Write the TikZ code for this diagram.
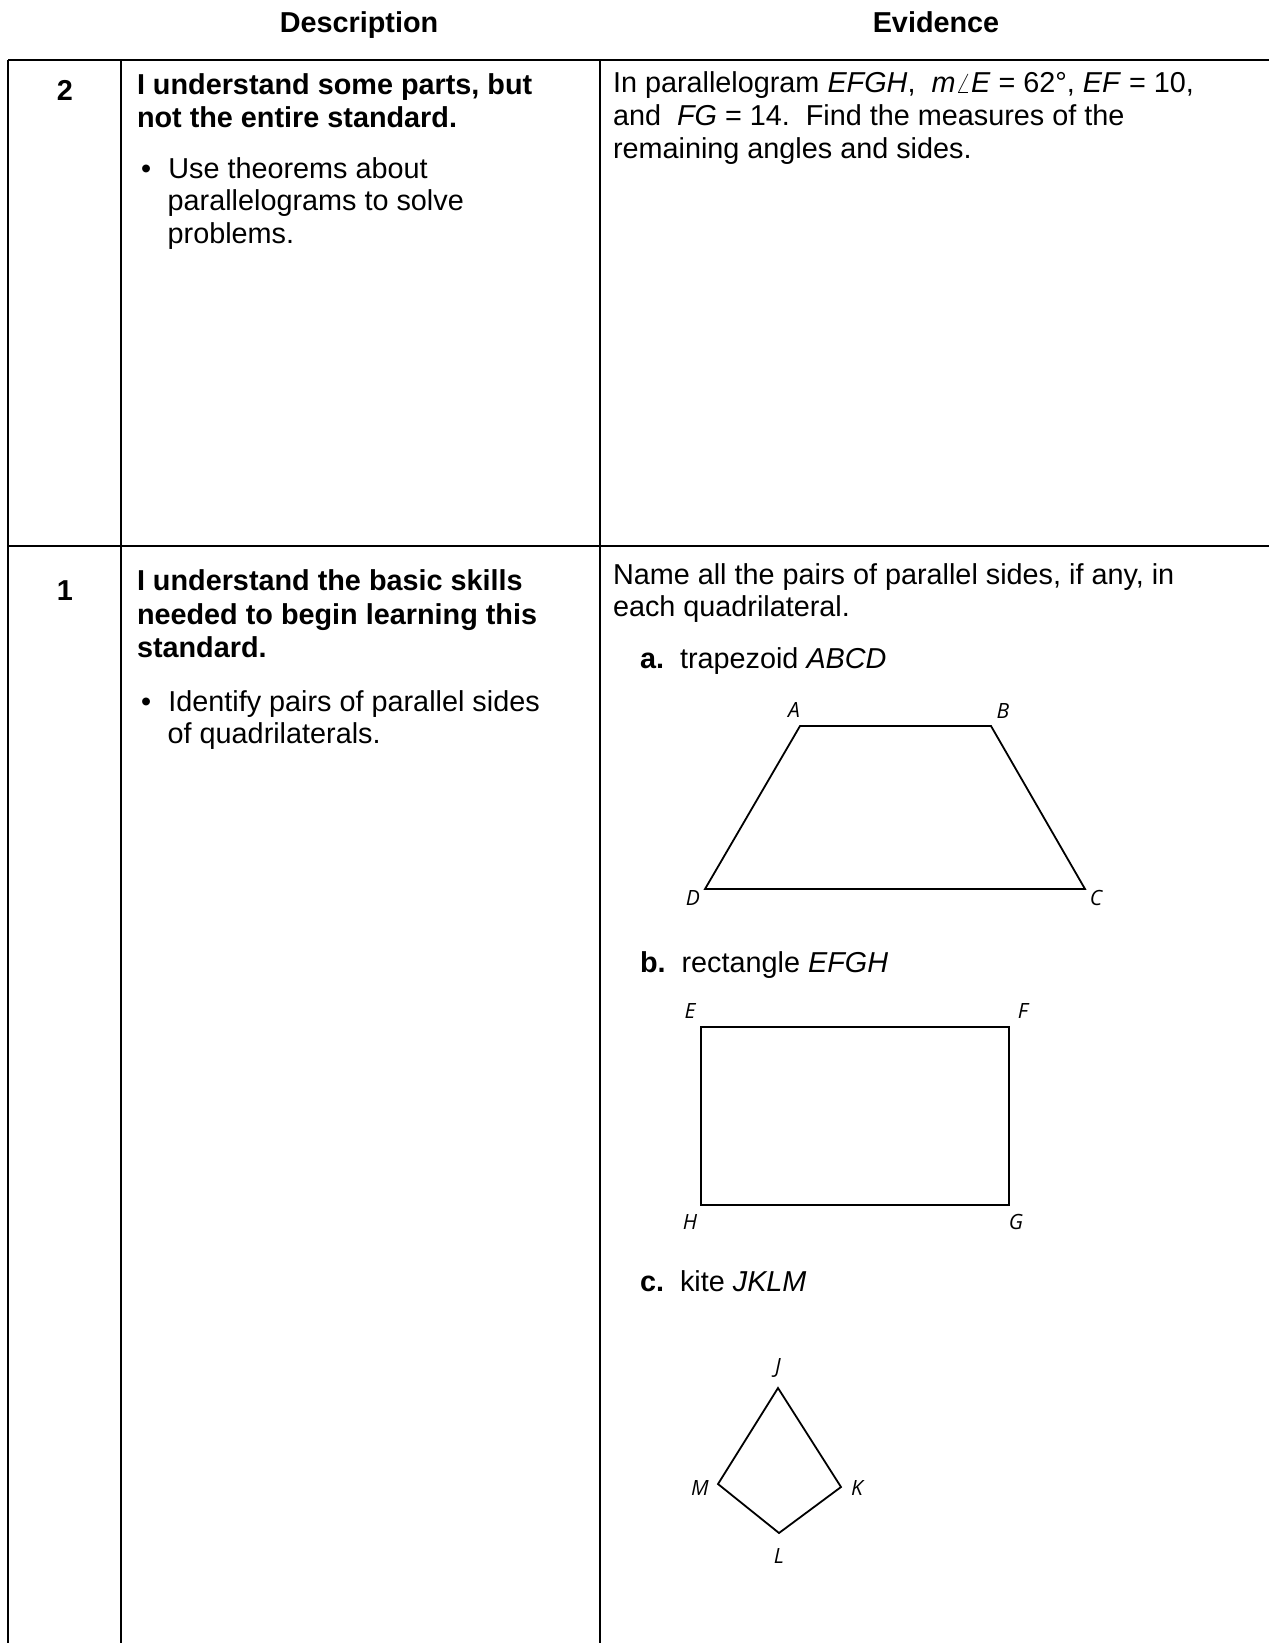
\documentclass[tikz,border=0pt]{standalone}
\usepackage{fontspec}
\setmainfont{Liberation Sans}
\newfontfamily\labfont{Open Sans}
\begin{document}
\begin{tikzpicture}[x=0.5pt,y=-0.5pt,
  every node/.style={inner sep=0pt,outer sep=0pt},
  txt/.style={anchor=base west,font=\fontsize{14.4}{17}\selectfont},
  bftxt/.style={anchor=base west,font=\fontsize{14.4}{17}\selectfont\bfseries},
  hdr/.style={anchor=base,font=\fontsize{14.4}{17}\selectfont\bfseries},
  vlab/.style={font=\fontsize{10.5}{12}\selectfont\labfont\itshape},
  rule/.style={line width=1pt},
  fig/.style={line width=0.9pt,line join=miter}]
\useasboundingbox (0,0) rectangle (1269,1643);
% table rules
\draw[rule] (8,60) -- (1269,60);
\draw[rule] (8,546) -- (1269,546);
\draw[rule] (8,60) -- (8,1643);
\draw[rule] (120.5,60) -- (120.5,1643);
\draw[rule] (600,60) -- (600,1643);
% header
\node[hdr] (hdesc) at (359,33) {Description};
\node[hdr] (hevid) at (936,33) {Evidence};
% row 2
\node[hdr] (lvl2) at (65,101) {2};
\node[bftxt] (r2a) at (137,95) {I understand some parts, but};
\node[bftxt] (r2b) at (137,127.5) {not the entire standard.};
\node[txt] (r2c) at (141,178) {\textbullet\hspace{0.6em}Use theorems about};
\node[txt] (r2d) at (167.7,210.5) {parallelograms to solve};
\node[txt] (r2e) at (167.7,243) {problems.};
\node[txt] (e2a) at (613,93) {In parallelogram \textit{EFGH},\ \ \textit{m}$\angle$\textit{E}\ =\ 62°, \textit{EF}\ =\ 10,};
\node[txt] (e2b) at (613,125.5) {and\ \ \textit{FG}\ =\ 14.\ \ Find the measures of the};
\node[txt] (e2c) at (613,158) {remaining angles and sides.};
% row 1
\node[hdr] (lvl1) at (65,600) {1};
\node[bftxt] (r1a) at (137,590) {I understand the basic skills};
\node[bftxt] (r1b) at (137,624) {needed to begin learning this};
\node[bftxt] (r1c) at (137,657.5) {standard.};
\node[txt] (r1d) at (141,711) {\textbullet\hspace{0.6em}Identify pairs of parallel sides};
\node[txt] (r1e) at (167.7,743.5) {of quadrilaterals.};
\node[txt] (e1a) at (613,584) {Name all the pairs of parallel sides, if any, in};
\node[txt] (e1b) at (613,616.5) {each quadrilateral.};
\node[txt] (pa) at (640,668) {\textbf{a.}\ \ trapezoid \textit{ABCD}};
\node[txt] (pb) at (640,972) {\textbf{b.}\ \ rectangle \textit{EFGH}};
\node[txt] (pc) at (640,1291) {\textbf{c.}\ \ kite \textit{JKLM}};
% trapezoid
\coordinate (A) at (800,726);
\coordinate (B) at (991,726);
\coordinate (C) at (1085,889);
\coordinate (D) at (705,889);
\draw[fig] (A) -- (B) -- (C) -- (D) -- cycle;
\node[vlab] (lA) at (794,710) {A};
\node[vlab] (lB) at (1003,711) {B};
\node[vlab] (lC) at (1096,898) {C};
\node[vlab] (lD) at (693,898) {D};
% rectangle
\coordinate (E) at (701,1027);
\coordinate (F) at (1009,1027);
\coordinate (G) at (1009,1205);
\coordinate (H) at (701,1205);
\draw[fig] (E) -- (F) -- (G) -- (H) -- cycle;
\node[vlab] (lE) at (690,1011) {E};
\node[vlab] (lF) at (1023,1011) {F};
\node[vlab] (lG) at (1016,1222) {G};
\node[vlab] (lH) at (690,1222) {H};
% kite
\coordinate (J) at (778,1388);
\coordinate (K) at (841,1487);
\coordinate (L) at (779,1533);
\coordinate (M) at (718,1484);
\draw[fig] (J) -- (K) -- (L) -- (M) -- cycle;
\node[vlab] (lJ) at (778,1368) {J};
\node[vlab] (lK) at (857,1488) {K};
\node[vlab] (lL) at (779,1556) {L};
\node[vlab] (lM) at (700,1488) {M};
\end{tikzpicture}
\end{document}
